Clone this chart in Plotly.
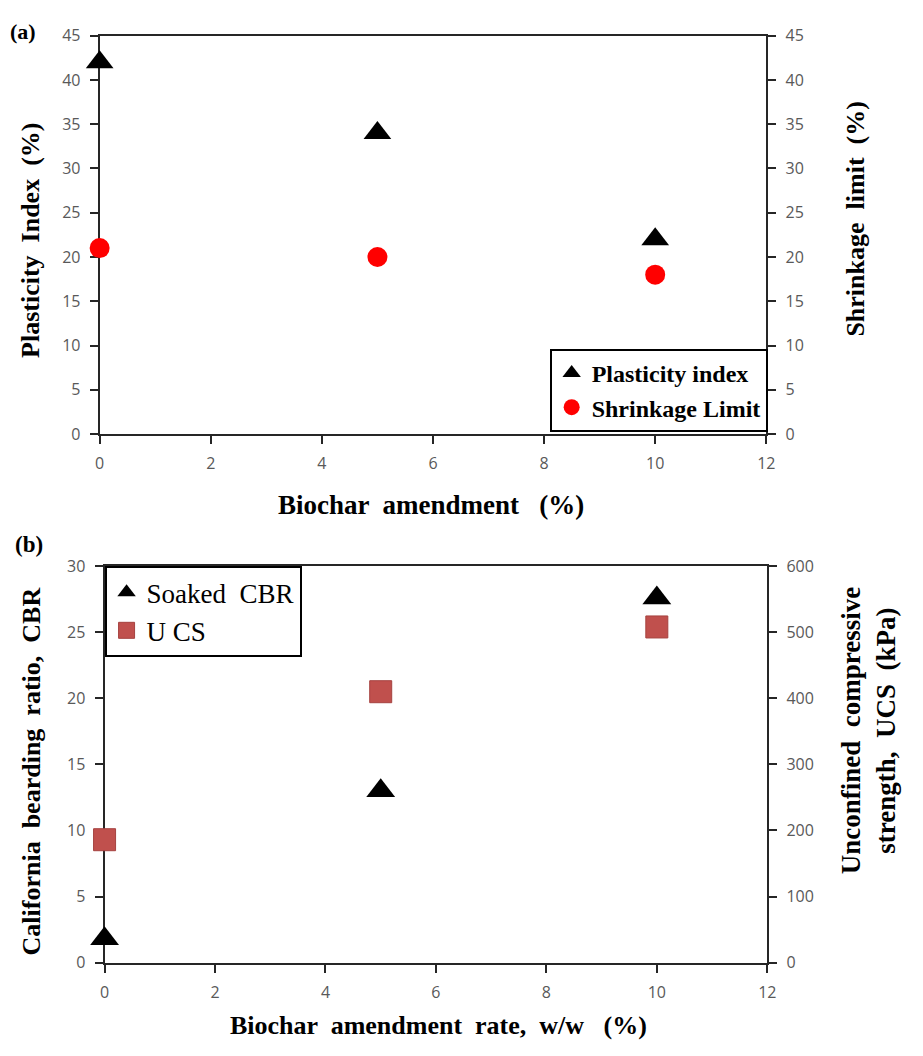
import plotly.graph_objects as go

# ---- data ----
biochar_a = [0, 5, 10]
plasticity_index = [42, 34, 22]
shrinkage_limit = [21, 20, 18]

biochar_b = [0, 5, 10]
soaked_cbr = [1.8, 13, 27.6]
ucs_kpa = [186, 410, 508]

# the page body has an 8px default margin; figure is sized so the page is 923x1056
OFF = 8
W, H = 923 - OFF, 1056 - 2 * OFF
AX = "#262626"
TICKC = "#595959"
SERIF = "Liberation Serif"
SANS = "Open Sans"

fig = go.Figure()

fig.add_trace(go.Scatter(x=biochar_a, y=plasticity_index, mode="markers", name="Plasticity index",
                         marker=dict(symbol="triangle-up", size=24, color="black"),
                         xaxis="x", yaxis="y", cliponaxis=False, legend="legend"))
fig.add_trace(go.Scatter(x=biochar_a, y=shrinkage_limit, mode="markers", name="Shrinkage Limit",
                         marker=dict(symbol="circle", size=20, color="#FF0000"),
                         xaxis="x", yaxis="y2", cliponaxis=False, legend="legend"))
fig.add_trace(go.Scatter(x=biochar_b, y=soaked_cbr, mode="markers", name="Soaked  CBR",
                         marker=dict(symbol="triangle-up", size=25, color="black"),
                         xaxis="x2", yaxis="y3", cliponaxis=False, legend="legend2"))
fig.add_trace(go.Scatter(x=biochar_b, y=ucs_kpa, mode="markers", name="U CS",
                         marker=dict(symbol="square", size=22, color="#C0504D",
                                     line=dict(color="#A5423F", width=1)),
                         xaxis="x2", yaxis="y4", cliponaxis=False, legend="legend2"))


def px_x(p):
    return (p - OFF) / W


def px_y(p):
    return 1 - (p - OFF) / H


tickfont = dict(family=SANS, size=16, color=TICKC)
common_axis = dict(showline=True, linecolor=AX, linewidth=2, showgrid=False, zeroline=False,
                   ticks="outside", ticklen=8, tickwidth=2, tickcolor=AX,
                   tickfont=tickfont, layer="below traces", ticklabelstandoff=6)

# panel a geometry (reference pixels)
a_l, a_r, a_t, a_b = 96, 773, 25, 432
# panel b geometry
b_l, b_r, b_t, b_b = 101, 774, 567, 972

fig.update_layout(
    width=W, height=H, autosize=False,
    margin=dict(l=0, r=0, t=0, b=0),
    paper_bgcolor="white", plot_bgcolor="white",
    showlegend=True,
    xaxis=dict(common_axis, domain=[px_x(a_l), px_x(a_r)], range=[0, 12], dtick=2,
               anchor="y", mirror=True),
    yaxis=dict(common_axis, domain=[px_y(a_b), px_y(a_t)], range=[0, 45], dtick=5,
               anchor="x", side="left"),
    yaxis2=dict(common_axis, range=[0, 45], dtick=5, anchor="x", overlaying="y", side="right"),
    xaxis2=dict(common_axis, domain=[px_x(b_l), px_x(b_r)], range=[0, 12], dtick=2,
                anchor="y3", mirror=True),
    yaxis3=dict(common_axis, domain=[px_y(b_b), px_y(b_t)], range=[0, 30], dtick=5,
                anchor="x2", side="left"),
    yaxis4=dict(common_axis, range=[0, 600], dtick=100, anchor="x2", overlaying="y3", side="right"),
    legend=dict(x=px_x(553), y=px_y(345), xanchor="left", yanchor="top",
                bgcolor="white", bordercolor="black", borderwidth=2,
                font=dict(family=SERIF, size=24, color="black", weight="bold"),
                itemsizing="trace", itemwidth=30, traceorder="normal"),
    legend2=dict(x=px_x(b_l), y=px_y(b_t), xanchor="left", yanchor="top",
                 bgcolor="white", bordercolor="black", borderwidth=2,
                 font=dict(family=SERIF, size=27, color="black"),
                 itemsizing="trace", itemwidth=30, traceorder="normal"),
)

title_font = dict(family=SERIF, size=26, color="black", weight="bold")
big_font = dict(family=SERIF, size=27, color="black", weight="bold")
ann = [
    dict(text="(a)", x=px_x(3), y=px_y(21), xanchor="left", yanchor="middle",
         font=dict(family=SERIF, size=22, color="black", weight="bold")),
    dict(text="(b)", x=px_x(8), y=px_y(545), xanchor="left", yanchor="middle",
         font=dict(family=SERIF, size=23, color="black", weight="bold")),
    dict(text="Plasticity  Index  (%)", x=px_x(25), y=px_y(234), textangle=-90,
         xanchor="center", yanchor="middle", font=title_font),
    dict(text="Shrinkage  limit  (%)", x=px_x(864), y=px_y(212), textangle=-90,
         xanchor="center", yanchor="middle", font=title_font),
    dict(text="Biochar  amendment   (%)", x=px_x(432), y=px_y(504),
         xanchor="center", yanchor="middle", font=big_font),
    dict(text="California  bearding  ratio,  CBR", x=px_x(27), y=px_y(777), textangle=-90,
         xanchor="center", yanchor="middle", font=title_font),
    dict(text="Unconfined  compressive<br>strength,  UCS  (kPa)", x=px_x(877), y=px_y(735),
         textangle=-90, xanchor="center", yanchor="middle", font=big_font),
    dict(text="Biochar  amendment  rate,  w/w   (%)", x=px_x(440), y=px_y(1036),
         xanchor="center", yanchor="middle", font=title_font),
]
for a in ann:
    a.update(xref="paper", yref="paper", showarrow=False)
fig.update_layout(annotations=ann)

fig.write_html("out.html")
